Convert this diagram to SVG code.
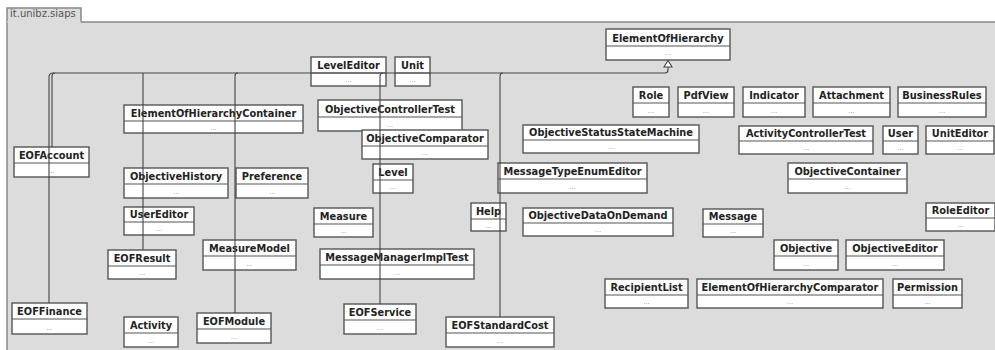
<svg xmlns="http://www.w3.org/2000/svg" width="995" height="350" viewBox="0 0 995 350">
<defs>
<style>
.box{fill:#fff;stroke:#555;stroke-width:1.4}
.div{stroke:#555;stroke-width:1.2}
.name{font-family:"DejaVu Sans",sans-serif;font-weight:bold;font-size:9.8px;fill:#222;text-anchor:middle}
.dots{font-family:"DejaVu Sans",sans-serif;font-size:7px;fill:#999;text-anchor:middle}
.frame{fill:#dcdcdc;stroke:#888;stroke-width:1.5}
.conn{fill:none;stroke:#444;stroke-width:1.1}
.tri{fill:#fff;stroke:#444;stroke-width:1.1}
</style>
</defs>
<rect width="995" height="350" fill="#fff"/>
<g id="package">
<path class="frame" d="M7,352 V8 H81 V22 H1000 V352 Z"/>
<line x1="7" y1="22" x2="81" y2="22" stroke="#dcdcdc" stroke-width="1"/>
<text x="10" y="17" font-family="DejaVu Sans, sans-serif" font-size="10" fill="#555">it.unibz.siaps</text>
</g>
<g id="nodes">
<g id="ElementOfHierarchy" transform="translate(606,29)"><rect class="box" width="124" height="31"/><line class="div" x1="0" y1="17" x2="124" y2="17"/><text class="name" x="62" y="13">ElementOfHierarchy</text><text class="dots" x="62" y="26">...</text></g>
<g id="LevelEditor" transform="translate(311,57)"><rect class="box" width="75" height="29"/><line class="div" x1="0" y1="16" x2="75" y2="16"/><text class="name" x="37.5" y="12">LevelEditor</text><text class="dots" x="37.5" y="25">...</text></g>
<g id="Unit" transform="translate(395,57)"><rect class="box" width="35" height="29"/><line class="div" x1="0" y1="16" x2="35" y2="16"/><text class="name" x="17.5" y="12">Unit</text><text class="dots" x="17.5" y="25">...</text></g>
<g id="ElementOfHierarchyContainer" transform="translate(124,105)"><rect class="box" width="179" height="28"/><line class="div" x1="0" y1="16" x2="179" y2="16"/><text class="name" x="89.5" y="12">ElementOfHierarchyContainer</text><text class="dots" x="89.5" y="25">...</text></g>
<g id="ObjectiveControllerTest" transform="translate(318,100)"><rect class="box" width="144" height="31"/><line class="div" x1="0" y1="17" x2="144" y2="17"/><text class="name" x="72" y="13">ObjectiveControllerTest</text><text class="dots" x="72" y="27">...</text></g>
<g id="ObjectiveComparator" transform="translate(362,130)"><rect class="box" width="126" height="29"/><line class="div" x1="0" y1="16" x2="126" y2="16"/><text class="name" x="63" y="12">ObjectiveComparator</text><text class="dots" x="63" y="25">...</text></g>
<g id="Level" transform="translate(373,164)"><rect class="box" width="40" height="29"/><line class="div" x1="0" y1="16" x2="40" y2="16"/><text class="name" x="20" y="12">Level</text><text class="dots" x="20" y="25">...</text></g>
<g id="Help" transform="translate(471,203)"><rect class="box" width="35" height="28"/><line class="div" x1="0" y1="16" x2="35" y2="16"/><text class="name" x="17.5" y="12">Help</text><text class="dots" x="17.5" y="25">...</text></g>
<g id="Measure" transform="translate(314,208)"><rect class="box" width="59" height="29"/><line class="div" x1="0" y1="16" x2="59" y2="16"/><text class="name" x="29.5" y="12">Measure</text><text class="dots" x="29.5" y="25">...</text></g>
<g id="MessageManagerImplTest" transform="translate(320,249)"><rect class="box" width="154" height="30"/><line class="div" x1="0" y1="16" x2="154" y2="16"/><text class="name" x="77" y="12">MessageManagerImplTest</text><text class="dots" x="77" y="26">...</text></g>
<g id="MessageTypeEnumEditor" transform="translate(498,163)"><rect class="box" width="149" height="30"/><line class="div" x1="0" y1="16" x2="149" y2="16"/><text class="name" x="74.5" y="12">MessageTypeEnumEditor</text><text class="dots" x="74.5" y="26">...</text></g>
<g id="ObjectiveStatusStateMachine" transform="translate(523,125)"><rect class="box" width="176" height="28"/><line class="div" x1="0" y1="15" x2="176" y2="15"/><text class="name" x="88" y="11">ObjectiveStatusStateMachine</text><text class="dots" x="88" y="24">...</text></g>
<g id="ObjectiveDataOnDemand" transform="translate(523,208)"><rect class="box" width="150" height="28"/><line class="div" x1="0" y1="15" x2="150" y2="15"/><text class="name" x="75" y="11">ObjectiveDataOnDemand</text><text class="dots" x="75" y="24">...</text></g>
<g id="Role" transform="translate(633,87)"><rect class="box" width="36" height="30"/><line class="div" x1="0" y1="16" x2="36" y2="16"/><text class="name" x="18" y="12">Role</text><text class="dots" x="18" y="26">...</text></g>
<g id="PdfView" transform="translate(678,87)"><rect class="box" width="56" height="30"/><line class="div" x1="0" y1="16" x2="56" y2="16"/><text class="name" x="28" y="12">PdfView</text><text class="dots" x="28" y="26">...</text></g>
<g id="Indicator" transform="translate(743,87)"><rect class="box" width="62" height="30"/><line class="div" x1="0" y1="16" x2="62" y2="16"/><text class="name" x="31" y="12">Indicator</text><text class="dots" x="31" y="26">...</text></g>
<g id="Attachment" transform="translate(813,87)"><rect class="box" width="77" height="30"/><line class="div" x1="0" y1="16" x2="77" y2="16"/><text class="name" x="38.5" y="12">Attachment</text><text class="dots" x="38.5" y="26">...</text></g>
<g id="BusinessRules" transform="translate(898,87)"><rect class="box" width="88" height="30"/><line class="div" x1="0" y1="16" x2="88" y2="16"/><text class="name" x="44" y="12">BusinessRules</text><text class="dots" x="44" y="26">...</text></g>
<g id="ActivityControllerTest" transform="translate(739,126)"><rect class="box" width="134" height="28"/><line class="div" x1="0" y1="15" x2="134" y2="15"/><text class="name" x="67" y="11">ActivityControllerTest</text><text class="dots" x="67" y="24">...</text></g>
<g id="User" transform="translate(883,126)"><rect class="box" width="35" height="28"/><line class="div" x1="0" y1="15" x2="35" y2="15"/><text class="name" x="17.5" y="11">User</text><text class="dots" x="17.5" y="24">...</text></g>
<g id="UnitEditor" transform="translate(926,126)"><rect class="box" width="68" height="28"/><line class="div" x1="0" y1="15" x2="68" y2="15"/><text class="name" x="34" y="11">UnitEditor</text><text class="dots" x="34" y="24">...</text></g>
<g id="ObjectiveContainer" transform="translate(788,163)"><rect class="box" width="119" height="30"/><line class="div" x1="0" y1="16" x2="119" y2="16"/><text class="name" x="59.5" y="12">ObjectiveContainer</text><text class="dots" x="59.5" y="26">...</text></g>
<g id="RoleEditor" transform="translate(926,203)"><rect class="box" width="69" height="28"/><line class="div" x1="0" y1="15" x2="69" y2="15"/><text class="name" x="34.5" y="11">RoleEditor</text><text class="dots" x="34.5" y="24">...</text></g>
<g id="Message" transform="translate(703,209)"><rect class="box" width="60" height="28"/><line class="div" x1="0" y1="15" x2="60" y2="15"/><text class="name" x="30" y="11">Message</text><text class="dots" x="30" y="24">...</text></g>
<g id="Objective" transform="translate(774,240)"><rect class="box" width="64" height="30"/><line class="div" x1="0" y1="16" x2="64" y2="16"/><text class="name" x="32" y="12">Objective</text><text class="dots" x="32" y="26">...</text></g>
<g id="ObjectiveEditor" transform="translate(846,240)"><rect class="box" width="98" height="30"/><line class="div" x1="0" y1="16" x2="98" y2="16"/><text class="name" x="49" y="12">ObjectiveEditor</text><text class="dots" x="49" y="26">...</text></g>
<g id="RecipientList" transform="translate(605,279)"><rect class="box" width="83" height="29"/><line class="div" x1="0" y1="16" x2="83" y2="16"/><text class="name" x="41.5" y="12">RecipientList</text><text class="dots" x="41.5" y="25">...</text></g>
<g id="ElementOfHierarchyComparator" transform="translate(697,279)"><rect class="box" width="186" height="29"/><line class="div" x1="0" y1="16" x2="186" y2="16"/><text class="name" x="93" y="12">ElementOfHierarchyComparator</text><text class="dots" x="93" y="25">...</text></g>
<g id="Permission" transform="translate(893,279)"><rect class="box" width="69" height="29"/><line class="div" x1="0" y1="16" x2="69" y2="16"/><text class="name" x="34.5" y="12">Permission</text><text class="dots" x="34.5" y="25">...</text></g>
<g id="EOFAccount" transform="translate(14,147)"><rect class="box" width="75" height="30"/><line class="div" x1="0" y1="16" x2="75" y2="16"/><text class="name" x="37.5" y="12">EOFAccount</text><text class="dots" x="37.5" y="26">...</text></g>
<g id="ObjectiveHistory" transform="translate(124,168)"><rect class="box" width="104" height="30"/><line class="div" x1="0" y1="16" x2="104" y2="16"/><text class="name" x="52" y="12">ObjectiveHistory</text><text class="dots" x="52" y="26">...</text></g>
<g id="Preference" transform="translate(236,168)"><rect class="box" width="72" height="30"/><line class="div" x1="0" y1="16" x2="72" y2="16"/><text class="name" x="36" y="12">Preference</text><text class="dots" x="36" y="26">...</text></g>
<g id="UserEditor" transform="translate(124,207)"><rect class="box" width="70" height="28"/><line class="div" x1="0" y1="15" x2="70" y2="15"/><text class="name" x="35" y="11">UserEditor</text><text class="dots" x="35" y="24">...</text></g>
<g id="EOFResult" transform="translate(108,250)"><rect class="box" width="68" height="29"/><line class="div" x1="0" y1="16" x2="68" y2="16"/><text class="name" x="34" y="12">EOFResult</text><text class="dots" x="34" y="25">...</text></g>
<g id="MeasureModel" transform="translate(203,240)"><rect class="box" width="93" height="30"/><line class="div" x1="0" y1="16" x2="93" y2="16"/><text class="name" x="46.5" y="12">MeasureModel</text><text class="dots" x="46.5" y="26">...</text></g>
<g id="EOFFinance" transform="translate(12,303)"><rect class="box" width="75" height="31"/><line class="div" x1="0" y1="16" x2="75" y2="16"/><text class="name" x="37.5" y="12">EOFFinance</text><text class="dots" x="37.5" y="27">...</text></g>
<g id="Activity" transform="translate(124,317)"><rect class="box" width="54" height="30"/><line class="div" x1="0" y1="16" x2="54" y2="16"/><text class="name" x="27" y="12">Activity</text><text class="dots" x="27" y="26">...</text></g>
<g id="EOFModule" transform="translate(197,313)"><rect class="box" width="74" height="30"/><line class="div" x1="0" y1="16" x2="74" y2="16"/><text class="name" x="37" y="12">EOFModule</text><text class="dots" x="37" y="26">...</text></g>
<g id="EOFService" transform="translate(344,304)"><rect class="box" width="72" height="30"/><line class="div" x1="0" y1="16" x2="72" y2="16"/><text class="name" x="36" y="12">EOFService</text><text class="dots" x="36" y="26">...</text></g>
<g id="EOFStandardCost" transform="translate(446,317)"><rect class="box" width="108" height="30"/><line class="div" x1="0" y1="16" x2="108" y2="16"/><text class="name" x="54" y="12">EOFStandardCost</text><text class="dots" x="54" y="26">...</text></g>
</g>
<g id="connectors">
<path class="conn" d="M49,303 V77 Q49,73 53,73 H665 Q668,73 668,70 V67"/>
<path class="conn" d="M52,147 V76 Q52,73 55,73"/>
<path class="conn" d="M143,250 V73"/>
<path class="conn" d="M235,313 V76 Q235,73 238,73"/>
<path class="conn" d="M380,304 V76 Q380,73 383,73"/>
<path class="conn" d="M500,317 V76 Q500,73 503,73"/>
<path class="tri" d="M668,60.5 L672,67 L664,67 Z"/>
</g>
</svg>
